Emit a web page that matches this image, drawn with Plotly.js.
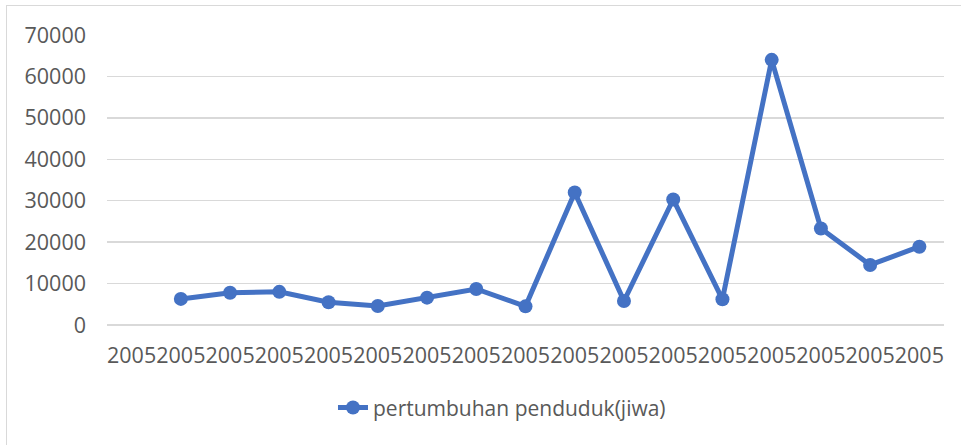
<!DOCTYPE html>
<html>
<head>
<meta charset="utf-8">
<script src="https://cdn.plot.ly/plotly-3.0.1.min.js"></script>
<style>
html,body{margin:0;padding:0;background:#fff;}
#frame{position:absolute;left:6px;top:5px;width:955px;height:440px;border-left:1px solid #d9d9d9;border-top:1px solid #d9d9d9;}
#chart{position:absolute;left:0;top:0;width:961px;height:445px;}
</style>
</head>
<body>
<div id="frame"></div>
<div id="chart"></div>
<script>
const categories = ["2005","2005","2005","2005","2005","2005","2005","2005","2005","2005","2005","2005","2005","2005","2005","2005","2005"];
const values = [null, 6300, 7800, 8000, 5500, 4600, 6600, 8700, 4500, 32000, 5800, 30300, 6200, 64000, 23300, 14500, 18900];
const seriesName = "pertumbuhan penduduk(jiwa)";
const yTicks = [0,10000,20000,30000,40000,50000,60000,70000];

const positions = categories.map((c,i)=>i);

const trace = {
  x: positions,
  y: values,
  type: 'scatter',
  mode: 'lines+markers',
  name: seriesName,
  connectgaps: false,
  line: {color: '#4472C4', width: 5},
  marker: {color: '#4472C4', size: 14}
};

const font = {family: '"Open Sans", Lato, sans-serif', size: 21.5, color: '#595959'};
const legendFont = {family: '"Open Sans", Lato, sans-serif', size: 21, color: '#595959'};

const layout = {
  width: 961,
  height: 445,
  paper_bgcolor: 'rgba(0,0,0,0)',
  plot_bgcolor: 'rgba(0,0,0,0)',
  margin: {l: 107, r: 17, t: 35, b: 120},
  font: font,
  showlegend: true,
  legend: {
    orientation: 'h',
    x: 0.27, xanchor: 'left',
    y: -0.215, yanchor: 'top',
    font: legendFont,
    bgcolor: 'rgba(0,0,0,0)'
  },
  xaxis: {
    range: [-0.5, categories.length - 0.5],
    tickmode: 'array',
    tickvals: positions,
    ticktext: categories,
    showgrid: false,
    zeroline: false,
    showline: false,
    ticks: '',
    tickangle: 0,
    ticklabelstandoff: 15,
    tickfont: font
  },
  yaxis: {
    range: [0, 70000],
    tickmode: 'array',
    tickvals: yTicks,
    ticktext: yTicks.map(String),
    showgrid: true,
    gridcolor: '#d9d9d9',
    gridwidth: 1.3,
    zeroline: true,
    zerolinecolor: '#d9d9d9',
    zerolinewidth: 1.3,
    showline: false,
    ticks: '',
    ticklabelstandoff: 20,
    tickfont: font
  }
};

Plotly.newPlot('chart', [trace], layout, {displayModeBar: false, staticPlot: true});
</script>
</body>
</html>
